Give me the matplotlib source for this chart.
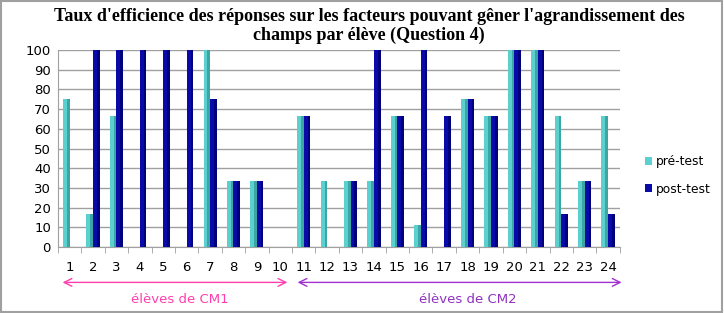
import matplotlib
matplotlib.use("Agg")
import matplotlib.pyplot as plt
import numpy as np
from matplotlib.patches import FancyArrowPatch, Rectangle

eleves = [str(i) for i in range(1, 25)]
pre_test = [75, 16.7, 66.7, 0, 0, 0, 100, 33.3, 33.3, 0, 66.7, 33.3,
            33.3, 33.3, 66.7, 11, 0, 75, 66.7, 100, 100, 66.7, 33.3, 66.7]
post_test = [0, 100, 100, 100, 100, 100, 75, 33.3, 33.3, 0, 66.7, 0,
             33.3, 100, 66.7, 100, 66.7, 75, 66.7, 100, 100, 16.7, 33.3, 16.7]
yticks = list(range(0, 101, 10))
title = "Taux d'efficience des réponses sur les facteurs pouvant gêner l'agrandissement des\nchamps par élève (Question 4)"

fig = plt.figure(figsize=(7.24, 3.13), dpi=100)
fig.patch.set_facecolor("white")
fig.add_artist(Rectangle((0.002, 0.004), 0.995, 0.992, transform=fig.transFigure,
                         fill=False, edgecolor="#a0a0a0", linewidth=1.5))

ax = fig.add_axes([0.080, 0.211, 0.776, 0.629])
x = np.arange(len(eleves))
w = 0.28
b1 = ax.bar(x - w / 2, pre_test, w, color="#5ccfcf", edgecolor="none", label="pré-test", zorder=3)
b2 = ax.bar(x + w / 2, post_test, w, color="#0a0aa8", edgecolor="none", label="post-test", zorder=3)
ax.bar(x - w / 2 + w * 0.30, pre_test, w * 0.4, color="#3aa6a6", edgecolor="none", zorder=4)
ax.bar(x + w / 2 + w * 0.30, post_test, w * 0.4, color="#00007a", edgecolor="none", zorder=4)

ax.set_xlim(-0.5, len(eleves) - 0.5)
ax.set_ylim(0, 100)
ax.set_yticks(yticks)
ax.set_xticks(x)
ax.set_xticklabels(eleves)
ax.set_xticks(np.arange(-0.5, len(eleves), 1), minor=True)
ax.tick_params(axis="x", which="major", length=0, pad=10, labelsize=9.5)
ax.tick_params(axis="x", which="minor", length=4, color="#a0a0a0")
ax.tick_params(axis="y", length=0, pad=5, labelsize=9.5)
ax.yaxis.grid(True, color="#a0a0a0", linewidth=1.0, zorder=0)
for s in ["top", "right"]:
    ax.spines[s].set_visible(False)
ax.spines["left"].set_color("#a0a0a0")
ax.spines["bottom"].set_color("#a0a0a0")

fig.text(0.51, 0.975, title, ha="center", va="top", fontsize=13, fontweight="bold",
         family="Liberation Serif", linespacing=1.15)

leg = fig.legend(handles=[b1, b2], loc="center left", bbox_to_anchor=(0.875, 0.44),
                 frameon=False, fontsize=8.8, handlelength=0.6, handleheight=0.6,
                 handletextpad=0.3, labelspacing=1.2)

ytr = ax.get_xaxis_transform()
a1 = FancyArrowPatch((-0.42, -0.18), (9.42, -0.18), transform=ytr, arrowstyle="<->",
                     mutation_scale=14, color="#ff3fae", linewidth=1.0, clip_on=False)
a2 = FancyArrowPatch((9.62, -0.18), (23.7, -0.18), transform=ytr, arrowstyle="<->",
                     mutation_scale=14, color="#a030d0", linewidth=1.0, clip_on=False)
ax.add_artist(a1)
ax.add_artist(a2)
ax.text(4.7, -0.265, "élèves de CM1", transform=ytr, ha="center", va="center",
        color="#ff3fae", fontsize=9.5)
ax.text(17.0, -0.265, "élèves de CM2", transform=ytr, ha="center", va="center",
        color="#9030c0", fontsize=9.5)

fig.savefig("out.png", dpi=100)
